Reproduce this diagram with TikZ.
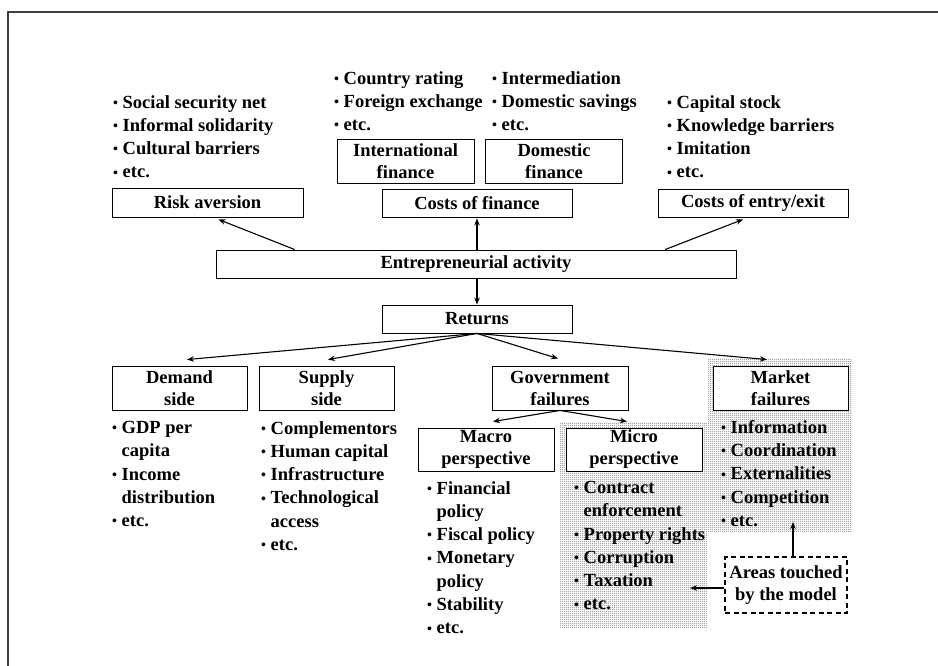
\documentclass[tikz,border=0pt]{standalone}
\usepackage{fontspec}
\setmainfont{Liberation Serif}
\usetikzlibrary{arrows.meta,calc,patterns.meta}
\tikzdeclarepattern{name=finedots, type=uncolored,
  bottom left={(-.1pt,-.1pt)}, top right={(2.1pt,2.1pt)}, tile size={(2pt,2pt)},
  code={\fill (0pt,0pt) rectangle (0.9pt,0.9pt);}}
\newcommand\mybul{\makebox[9.5pt][l]{\raisebox{0.8pt}{\fontsize{14}{14}\selectfont\textbullet}}}
\newcommand\myind{\hspace*{9.5pt}}
\begin{document}
\begin{tikzpicture}[x=1pt,y=-1pt,
  every node/.style={font=\fontsize{18.5}{23.3}\selectfont\bfseries},
  box/.style={draw=black, line width=0.9pt, fill=white, inner sep=0pt, align=center},
  twobox/.style={box, font=\fontsize{18.5}{22}\selectfont\bfseries, minimum width=136, minimum height=44},
  lst/.style={anchor=north west, inner sep=0pt, align=left},
  arr/.style={line width=1.1pt, -{Stealth[length=7pt,width=5.5pt]}},
  shadearea/.style={fill=black!4, postaction={pattern=finedots, pattern color=black!35}}]
\useasboundingbox (0,0) rectangle (938,666);
% frame
\draw[line width=1.3pt, black!75] (8,666) -- (8,12) -- (938,12);
% shaded areas
\path[shadearea] (708,358) rectangle (852,532);
\path[shadearea] (560,422) rectangle (707,627);
% top boxes
\node[box, minimum width=191, minimum height=29] (risk) at (207.5,202.5) {Risk aversion};
\node[box, minimum width=190, minimum height=28] (cfin) at (477,203) {Costs of finance};
\node[box, minimum width=190, minimum height=28] (entry) at (753,203) {Costs of entry/exit};
\node[twobox, minimum width=137] (intl) at (405.5,161) {International\\finance};
\node[twobox, minimum width=137] (dom) at (554,161) {Domestic\\finance};
\node[box, minimum width=520, minimum height=28] (ent) at (476,264) {Entrepreneurial activity};
\node[box, minimum width=190, minimum height=28] (ret) at (477,319) {Returns};
% lower boxes
\node[twobox, minimum width=135] (dem) at (179.5,388) {Demand\\side};
\node[twobox, minimum width=135] (sup) at (326.5,388) {Supply\\side};
\node[twobox] (gov) at (560,388) {Government\\failures};
\node[twobox, minimum width=135] (mkt) at (780.5,388) {Market\\failures};
\node[twobox, minimum height=43] (mac) at (486,449.5) {Macro\\perspective};
\node[twobox, minimum height=43] (mic) at (634,449.5) {Micro\\perspective};
\node[box, dashed, dash pattern=on 5pt off 3.5pt, line width=1.1pt, minimum width=122, minimum height=56,
  font=\fontsize{18.5}{22}\selectfont\bfseries] (area) at (786,585) {Areas touched\\by the model};
% lists
\node[lst] (l1) at (113,95) {\mybul Social security net\\\mybul Informal solidarity\\\mybul Cultural barriers\\\mybul etc.};
\node[lst] (l2) at (334,71) {\mybul Country rating\\\mybul Foreign exchange\\\mybul etc.};
\node[lst] (l3) at (492,71) {\mybul Intermediation\\\mybul Domestic savings\\\mybul etc.};
\node[lst] (l4) at (667,95) {\mybul Capital stock\\\mybul Knowledge barriers\\\mybul Imitation\\\mybul etc.};
\node[lst] (l5) at (112,421) {\mybul GDP per\\\myind capita\\\mybul Income\\\myind distribution\\\mybul etc.};
\node[lst] (l6) at (261,421) {\mybul Complementors\\\mybul Human capital\\\mybul Infrastructure\\\mybul Technological\\\myind access\\\mybul etc.};
\node[lst] (l7) at (427,481) {\mybul Financial\\\myind policy\\\mybul Fiscal policy\\\mybul Monetary\\\myind policy\\\mybul Stability\\\mybul etc.};
\node[lst] (l8) at (574,481) {\mybul Contract\\\myind enforcement\\\mybul Property rights\\\mybul Corruption\\\mybul Taxation\\\mybul etc.};
\node[lst] (l9) at (721,420) {\mybul Information\\\mybul Coordination\\\mybul Externalities\\\mybul Competition\\\mybul etc.};
% connectors
\draw[arr] ($(ent.north west)!0.152!(ent.north east)$) -- ($(risk.south)+(11,2)$);
\draw[arr] (cfin.south |- ent.north) -- ($(cfin.south)+(0,1)$);
\draw[arr] ($(ent.north west)!0.863!(ent.north east)$) -- ($(entry.south)+(-10,2)$);
\draw[arr] (ret.north |- ent.south) -- (ret.north);
\draw[arr] (ret.south) -- ($(dem.north)+(7.5,-6)$);
\draw[arr] (ret.south) -- ($(sup.north)+(1.5,-6)$);
\draw[arr] (ret.south) -- ($(gov.north)+(-2,-7)$);
\draw[arr] (ret.south) -- ($(mkt.north)+(-13.5,-6)$);
\draw[arr] (gov.south) -- ($(mac.north)+(7,-6)$);
\draw[arr] (gov.south) -- ($(mic.north)+(-7,-6)$);
\coordinate (tax) at (690,588);
\draw[arr] (area.west |- tax) -- (tax);
\coordinate (etcm) at (793,522);
\draw[arr] (area.north -| etcm) -- (etcm);
\end{tikzpicture}
\end{document}
